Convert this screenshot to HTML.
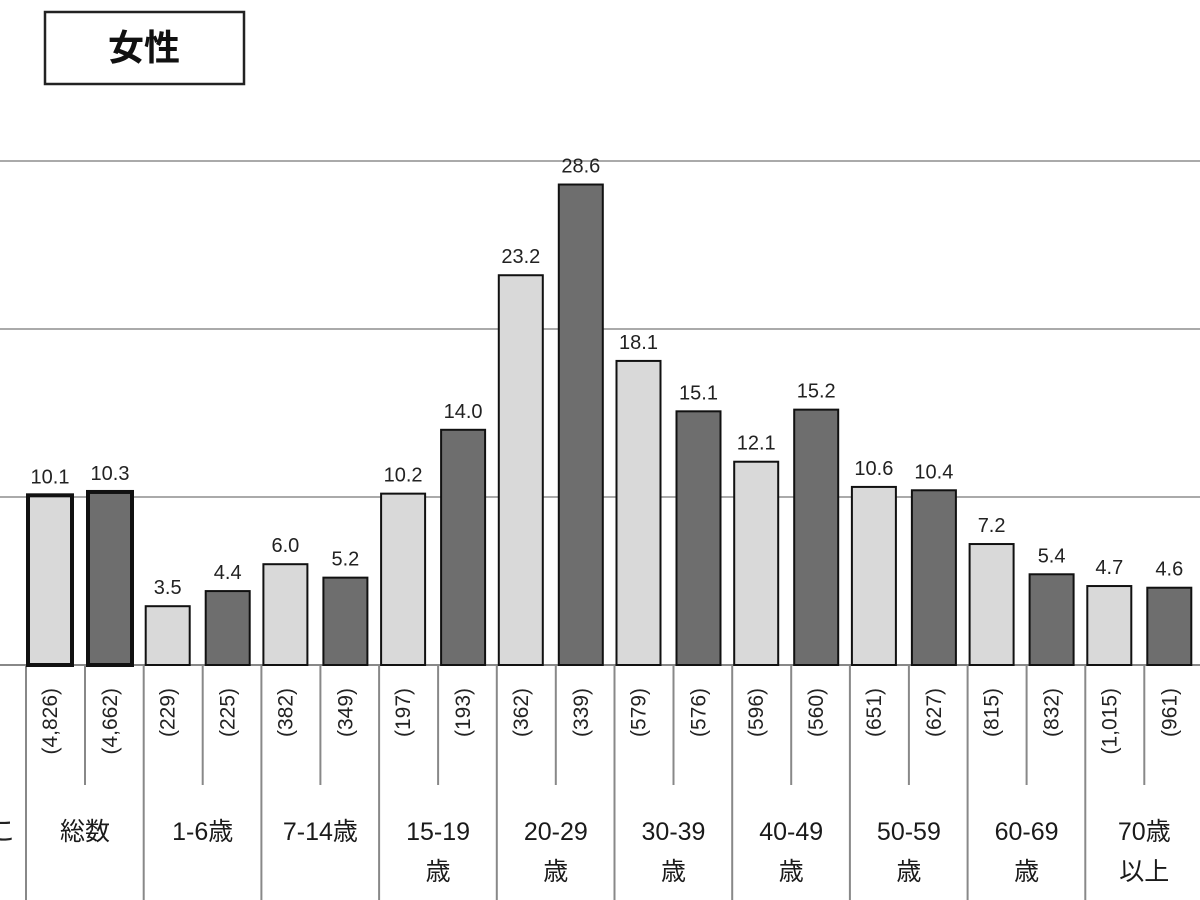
<!DOCTYPE html>
<html><head><meta charset="utf-8"><style>
body{margin:0;background:#fff;}
svg{display:block;font-family:"Liberation Sans","Noto Sans CJK JP",sans-serif;}
</style></head><body>
<svg id="c" width="1200" height="900">
<rect x="45" y="12" width="199" height="72" fill="#fff" stroke="#222" stroke-width="2.5"/>
<text x="144" y="60" font-size="36" font-weight="bold" text-anchor="middle" fill="#111">女性</text>
<text x="-10" y="840" font-size="26" fill="#222">こ</text>
</svg>
<script>
const categories=[["総数"],["1-6歳"],["7-14歳"],["15-19","歳"],["20-29","歳"],["30-39","歳"],["40-49","歳"],["50-59","歳"],["60-69","歳"],["70歳","以上"]];
const seriesA=[10.1,3.5,6.0,10.2,23.2,18.1,12.1,10.6,7.2,4.7];
const seriesB=[10.3,4.4,5.2,14.0,28.6,15.1,15.2,10.4,5.4,4.6];
const countsA=["(4,826)","(229)","(382)","(197)","(362)","(579)","(596)","(651)","(815)","(1,015)"];
const countsB=["(4,662)","(225)","(349)","(193)","(339)","(576)","(560)","(627)","(832)","(961)"];
const gridVals=[10,20,30];
const svg=document.getElementById('c');
const NS="http://www.w3.org/2000/svg";
const base=665, ppu=16.8;
const y=v=>base-v*ppu;
const gx=i=>26+i*117.7;
function mk(t,a,p){const e=document.createElementNS(NS,t);for(const k in a)e.setAttribute(k,a[k]);(p||svg).appendChild(e);return e;}
gridVals.forEach(v=>{
 const l=mk('line',{x1:0,x2:1200,y1:y(v),y2:y(v),stroke:'#aaa','stroke-width':2});
 
 
});
const ax=mk('line',{x1:0,x2:1200,y1:base,y2:base,stroke:'#888','stroke-width':2});


categories.forEach((c,i)=>{
 const x0=gx(i);
 const sep=mk('line',{x1:x0,x2:x0,y1:base,y2:900,stroke:'#888','stroke-width':2});
 
 
 const mid=mk('line',{x1:x0+59,x2:x0+59,y1:base,y2:785,stroke:'#888','stroke-width':2});
 
 
 [[seriesA[i],'#d9d9d9',2,countsA[i],'a'],[seriesB[i],'#6e6e6e',62,countsB[i],'b']].forEach(([v,col,off,cnt,s])=>{
  const bx=x0+off, w=44;
  const r=mk('rect',{x:bx,y:y(v),width:w,height:base-y(v),fill:col,stroke:'#111','stroke-width':i==0?4:2});
  
  
  const t=mk('text',{x:bx+w/2,y:y(v)-12,'font-size':20,'text-anchor':'middle',fill:'#222'});
  t.textContent=v.toFixed(1);
  
  
  const ct=mk('text',{x:0,y:0,'font-size':21,fill:'#222','text-anchor':'end',transform:`translate(${bx+w/2+7},688) rotate(-90)`});
  ct.textContent=cnt;
  
  
 });
 c.forEach((ln,j)=>{
  const t=mk('text',{x:x0+59,y:840+j*40,'font-size':25,'text-anchor':'middle',fill:'#1a1a1a'});
  t.textContent=ln;
  
  
 });
});
</script>
</body></html>
